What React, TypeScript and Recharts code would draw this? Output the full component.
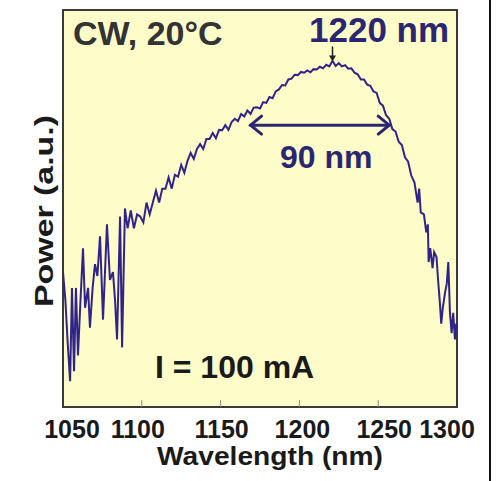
import {
	LineChart,
	Line,
	XAxis,
	YAxis,
	CartesianGrid,
	ReferenceArea,
	ReferenceLine,
	Customized,
} from 'recharts';

const wavelengths = [
	1050, 1051.5, 1053, 1054.5, 1055.7, 1057, 1058.2, 1059.5, 1061, 1062.7, 1064,
	1065.9, 1067.1, 1068.8, 1070.3, 1071.8, 1073.5, 1075.4, 1077.9, 1079.8,
	1081.7, 1083, 1084.3, 1086.2, 1087.5, 1089.3, 1091, 1093, 1095, 1097, 1099,
	1101, 1103, 1105, 1107, 1109, 1111, 1113, 1115, 1117, 1119, 1121, 1123, 1125,
	1127, 1129, 1131, 1133, 1135, 1137, 1139, 1141, 1143, 1145, 1147, 1149, 1151,
	1153, 1155, 1157, 1159, 1161, 1163, 1165, 1167, 1169, 1171, 1173, 1175, 1177,
	1179, 1181, 1183, 1185, 1187, 1189, 1191, 1193, 1195, 1197, 1199, 1201, 1203,
	1205, 1207, 1209, 1211, 1213, 1215, 1217, 1219, 1221, 1223, 1225, 1227, 1229,
	1231, 1233, 1235, 1237, 1239, 1241, 1243, 1245, 1247, 1249, 1251, 1253, 1255,
	1257, 1259, 1261, 1263, 1265, 1267, 1269, 1271, 1273, 1275, 1276, 1277, 1279,
	1280.5, 1281.5, 1282, 1283, 1284.5, 1285.5, 1287, 1288, 1289, 1290, 1291,
	1292.5, 1293.5, 1294.5, 1295.5, 1296.6, 1297.6, 1298.7, 1299.5, 1300,
];
const power = [
	34, 27, 16, 6.5, 30, 9, 30, 13, 26, 40, 25, 30, 20, 30, 36, 33, 43, 22, 46,
	32, 34, 27, 17, 48, 15, 50, 45, 49.5, 45, 48.5, 48, 46.5, 51.5, 48.5, 51.5,
	54.5, 51.5, 55, 55, 57.8, 55, 58.5, 58, 61, 59, 62, 64, 62.5, 65, 66.2, 65,
	67.5, 67.5, 69, 67.7, 69.8, 69.7, 71, 69.8, 71.8, 72.6, 72, 73.8, 73.2, 74.7,
	73.8, 75.4, 75.5, 75.2, 76.8, 76.6, 78.1, 77.8, 79.5, 80, 81.1, 81, 82.5,
	82.7, 83.7, 83.6, 84.4, 84.2, 84.8, 84.3, 85.1, 85, 85.7, 85.3, 86.2, 85.8,
	87.2, 85.9, 86.6, 85.8, 86.1, 85.2, 85.3, 84.2, 83.8, 82.5, 82.5, 81.2, 80.9,
	79.5, 79.1, 76.6, 75.9, 73.5, 72.6, 70, 69.4, 66.8, 66, 62.9, 61.8, 58.3,
	56.6, 51.5, 55, 49, 48.5, 44, 46, 36.5, 40, 35, 39, 37.8, 32, 27, 21, 25, 29,
	31, 36.5, 24, 18.6, 23.7, 17, 21, 19,
];

const xTicks = [1050, 1100, 1150, 1200, 1250, 1300];
const tickShift = [9, -4, 1, 3, 6, -10];

const peakNm = 1221;
const fwhmFrom = 1169;
const fwhmTo = 1257;
const fwhmLevel = 71;

const data = wavelengths.map((w, i) => ({ w, p: power[i] }));

const NAVY = '#2B2672';
const TRACE = '#30248A';
const FONT = '"Liberation Sans", Arial, sans-serif';

const BottomTick = (props: any) => {
	const { x, y, payload, index } = props;
	const inner = index > 0 && index < xTicks.length - 1;
	return (
		<g>
			{inner && <line x1={x} y1={y - 7} x2={x} y2={y} stroke="#8a8a7a" strokeWidth={1} />}
			<text
				x={x + tickShift[index]}
				y={y + 31}
				textAnchor="middle"
				fontFamily={FONT}
				fontWeight="bold"
				fontSize={25}
				fill="#1a1a1a"
			>
				{payload.value}
			</text>
		</g>
	);
};

const DoubleArrow = (props: any) => {
	const { x1, y1, x2, y2 } = props;
	const left = Math.min(x1, x2);
	const right = Math.max(x1, x2);
	return (
		<g stroke={NAVY} strokeWidth={3} fill="none" strokeLinecap="round">
			<line x1={left} y1={y1} x2={right} y2={y2} />
			<polyline points={`${left + 11},${y1 - 9} ${left},${y1} ${left + 11},${y1 + 9}`} />
			<polyline points={`${right - 11},${y2 - 9} ${right},${y2} ${right - 11},${y2 + 9}`} />
		</g>
	);
};

const DownArrow = (props: any) => {
	const { x1, y1, y2 } = props;
	const top = Math.min(y1, y2);
	const tip = Math.max(y1, y2);
	return (
		<g>
			<line x1={x1} y1={top} x2={x1} y2={tip - 5} stroke="#222" strokeWidth={1.5} />
			<polygon points={`${x1 - 3.5},${tip - 6} ${x1 + 3.5},${tip - 6} ${x1},${tip}`} fill="#222" />
		</g>
	);
};

const Annotations = () => (
	<g fontFamily={FONT} fontWeight="bold">
		<text x={73} y={45} fontSize={34} fill="#333">
			CW, 20°C
		</text>
		<text x={309} y={42} fontSize={35} fill={NAVY}>
			1220 nm
		</text>
		<text x={280} y={168} fontSize={32} fill={NAVY}>
			90 nm
		</text>
		<text x={155} y={378} fontSize={32} fill="#1a1a1a">
			I = 100 mA
		</text>
		<text
			x={270}
			y={465}
			fontSize={25}
			fill="#1a1a1a"
			textAnchor="middle"
			textLength={226}
			lengthAdjust="spacingAndGlyphs"
		>
			Wavelength (nm)
		</text>
		<text
			x={53}
			y={211}
			fontSize={25}
			fill="#1a1a1a"
			textAnchor="middle"
			textLength={192}
			lengthAdjust="spacingAndGlyphs"
			transform="rotate(-90 53 211)"
		>
			Power (a.u.)
		</text>
	</g>
);

export default function App() {
	return (
		<div
			style={{
				position: 'absolute',
				left: 0,
				top: 0,
				width: 504,
				height: 481,
				background: '#fff',
			}}
		>
			<LineChart
				width={504}
				height={481}
				data={data}
				margin={{ top: 10, right: 47, left: 63, bottom: 44 }}
			>
				<CartesianGrid horizontal={false} vertical={false} fill="#FEFCC9" />
				<XAxis
					type="number"
					dataKey="w"
					domain={[1050, 1300]}
					ticks={xTicks}
					height={30}
					axisLine={false}
					tickLine={false}
					tickSize={0}
					tickMargin={0}
					tick={<BottomTick />}
					interval={0}
					allowDataOverflow
				/>
				<YAxis type="number" domain={[0, 100]} hide allowDataOverflow />
				<ReferenceArea
					x1={1050}
					x2={1300}
					y1={0}
					y2={100}
					fill="none"
					stroke="#3a3a3a"
					strokeWidth={2}
				/>
				<Line
					type="linear"
					dataKey="p"
					stroke={TRACE}
					strokeWidth={2}
					dot={false}
					isAnimationActive={false}
				/>
				<ReferenceLine
					segment={[
						{ x: fwhmFrom, y: fwhmLevel },
						{ x: fwhmTo, y: fwhmLevel },
					]}
					shape={<DoubleArrow />}
				/>
				<ReferenceLine
					segment={[
						{ x: peakNm, y: 90.8 },
						{ x: peakNm, y: 87 },
					]}
					shape={<DownArrow />}
				/>
				<Customized component={<Annotations />} />
			</LineChart>
			<div
				style={{
					position: 'absolute',
					left: 489,
					top: 0,
					width: 2,
					height: 481,
					background: '#111',
				}}
			/>
		</div>
	);
}
